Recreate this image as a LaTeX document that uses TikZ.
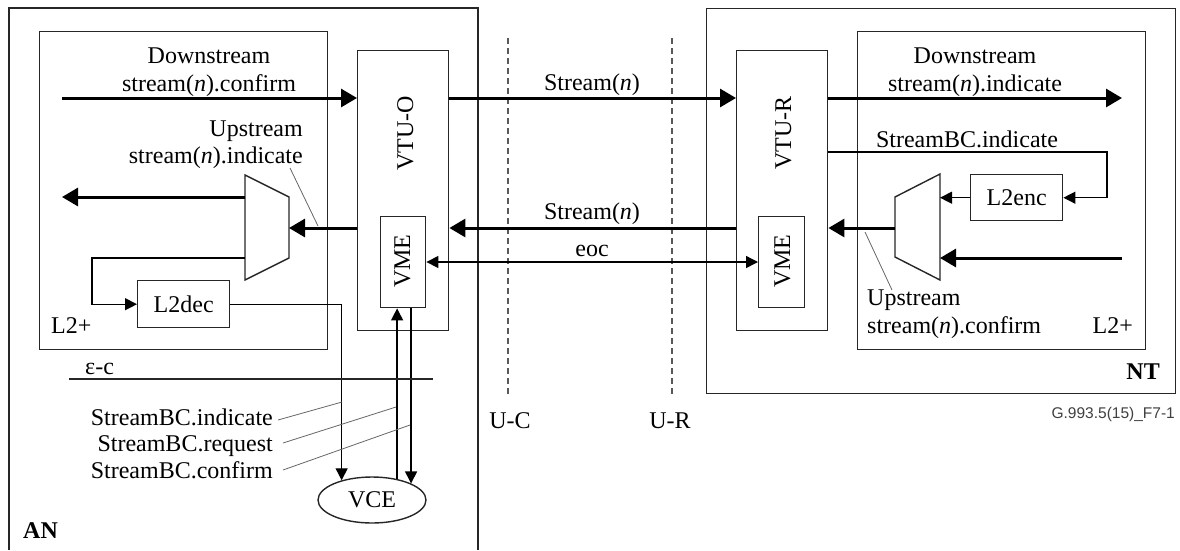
\documentclass[tikz,border=0pt]{standalone}
\usepackage{fontspec}
\setmainfont{Liberation Serif}
\newfontfamily\sansfam{Liberation Sans}
\usetikzlibrary{arrows.meta,shapes.geometric}
\newcommand\dfont{\fontsize{24}{28}\selectfont}
\begin{document}
\begin{tikzpicture}[x=1pt,y=-1pt,
  box/.style={draw=black!85, line width=1.4pt, inner sep=0pt, anchor=north west, font=\dfont},
  outline/.style={draw=black!85, line width=1.4pt},
  lbl/.style={font=\dfont, inner sep=0pt},
  fat/.style={line width=3pt, -{Triangle[length=16pt,width=18pt]}},
  sig/.style={line width=1.3pt, -{Triangle[length=12pt,width=12pt]}},
  sigboth/.style={line width=1.3pt, {Triangle[length=12pt,width=12pt]}-{Triangle[length=12pt,width=12pt]}},
  lead/.style={draw=black!60, line width=0.8pt},
  ref/.style={draw=black!65, line width=1.1pt, dash pattern=on 6pt off 4pt},
]
\useasboundingbox (0,0) rectangle (1180,550);

% AN container (open at bottom)
\draw[outline] (9,550) -- (9,8) -- (478,8) -- (478,550);

% boxes on AN side
\node[box, minimum width=288pt, minimum height=318pt] (l2l) at (39,31) {};
\node[box, minimum width=91pt, minimum height=280pt] (vtuo) at (357,50) {};
\node[box, minimum width=45pt, minimum height=91pt] (vmeo) at (380,216) {};
\node[box, minimum width=92pt, minimum height=47pt] (l2dec) at (137,280) {L2dec};
\node[draw=black!85, ellipse, line width=1.4pt, minimum width=108pt, minimum height=46pt, inner sep=0pt, font=\dfont] (vce) at (372,500) {VCE};

% NT side
\node[box, minimum width=469pt, minimum height=385pt] (nt) at (706,8) {};
\node[box, minimum width=91pt, minimum height=280pt] (vtur) at (736,50) {};
\node[box, minimum width=46pt, minimum height=91pt] (vmer) at (758,216) {};
\node[box, minimum width=288pt, minimum height=318pt] (l2r) at (857,31) {};
\node[box, minimum width=92pt, minimum height=46pt] (l2enc) at (970,174) {L2enc};

% multiplexers
\coordinate (mla) at (245,175); \coordinate (mlb) at (289,197);
\coordinate (mlc) at (289,258); \coordinate (mld) at (245,280);
\draw[outline] (mla) -- (mlb) -- (mlc) -- (mld) -- cycle;
\coordinate (mra) at (895,197); \coordinate (mrb) at (940,174);
\coordinate (mrc) at (940,280); \coordinate (mrd) at (895,257);
\draw[outline] (mra) -- (mrb) -- (mrc) -- (mrd) -- cycle;

% rotated labels
\node[lbl, rotate=90, anchor=base] (tvtuo) at (413,133) {VTU-O};
\node[lbl, rotate=90, anchor=base] (tvmeo) at (410,261) {VME};
\node[lbl, rotate=90, anchor=base] (tvtur) at (791,133) {VTU-R};
\node[lbl, rotate=90, anchor=base] (tvmer) at (790,261) {VME};

% reference points
\draw[ref] (508,38) -- (508,397);
\draw[ref] (672,38) -- (672,397);

% main data path
\coordinate (dsL) at (62,98);
\coordinate (dsR) at (1122,98);
\coordinate (usy) at (0,228);
\coordinate (mlin) at (289,228);
\coordinate (mlout) at (245,197);
\coordinate (usL) at (62,197);
\coordinate (mlfb) at (245,258);
\coordinate (mrout) at (895,228);
\coordinate (usR) at (1122,258);
\coordinate (eocy) at (0,262);
\coordinate (bcy) at (0,152);
\coordinate (bcR) at (1107,152);

\draw[fat] (dsL) -- (dsL -| vtuo.west);
\draw[fat] (vtuo.east |- dsL) -- (vtur.west |- dsL);
\draw[fat] (vtur.east |- dsR) -- (dsR);
\draw[fat] (vtur.west |- usy) -- (vtuo.east |- usy);
\draw[fat] (vtuo.west |- usy) -- (mlin);
\draw[fat] (mlout) -- (usL);
\draw[fat] (mrout) -- (vtur.east |- mrout);
\draw[fat] (usR) -- (usR -| mrb);

% control paths
\draw[sig] (mlfb) -- ++(-153,0) |- (l2dec.west);
\draw[sig] (l2dec.east) -| (vce.147.5);
\draw[sig] (vce.40.6) -- (vce.40.6 |- vmeo.south);
\draw[sig] (vce.23.2 |- vmeo.south) -- (vce.23.2);
\draw[sigboth] (vmeo.east |- eocy) -- (vmer.west |- eocy);
\draw[sig] (vtur.east |- bcy) -- (bcR) |- (l2enc.east);
\draw[sig] (l2enc.west) -- (l2enc.west -| mrb);

% epsilon-c reference line
\draw[line width=1.3pt, black!85] (69,379) -- (433,379);

% leader lines
\draw[lead] (290,168) -- (318,226);
\draw[lead] (865,232) -- (892,290);
\draw[lead] (278,420) -- (342,402);
\draw[lead] (283,443) -- (396,407);
\draw[lead] (283,470) -- (410,425);

% texts, AN side
\node[lbl, anchor=base] (t1) at (209,63) {Downstream};
\node[lbl, anchor=base] (t2) at (209,91) {stream(\textit{n}).confirm};
\node[lbl, anchor=base east] (t3) at (303,136) {Upstream};
\node[lbl, anchor=base east] (t4) at (303,163) {stream(\textit{n}).indicate};
\node[lbl, anchor=base west] (t5) at (51,333) {L2+};
\node[lbl, anchor=base west] (t6) at (85,374) {ε-c};
\node[lbl, anchor=base east] (t7) at (273,425) {StreamBC.indicate};
\node[lbl, anchor=base east] (t8) at (273,451) {StreamBC.request};
\node[lbl, anchor=base east] (t9) at (273,478) {StreamBC.confirm};
\node[lbl, anchor=base west] (t10) at (23,538) {\bfseries AN};

% middle texts
\node[lbl, anchor=base] (t11) at (592,90) {Stream(\textit{n})};
\node[lbl, anchor=base] (t12) at (592,219) {Stream(\textit{n})};
\node[lbl, anchor=base] (t13) at (592,256) {eoc};
\node[lbl, anchor=base] (t14) at (510,428) {U-C};
\node[lbl, anchor=base] (t15) at (670,428) {U-R};

% texts, NT side
\node[lbl, anchor=base] (t16) at (975,63) {Downstream};
\node[lbl, anchor=base] (t17) at (975,91) {stream(\textit{n}).indicate};
\node[lbl, anchor=base] (t18) at (967,147) {StreamBC.indicate};
\node[lbl, anchor=base west] (t19) at (867,305) {Upstream};
\node[lbl, anchor=base west] (t20) at (867,333) {stream(\textit{n}).confirm};
\node[lbl, anchor=base east] (t21) at (1133,333) {L2+};
\node[lbl, anchor=base east] (t22) at (1160,379) {\bfseries NT};
\node[inner sep=0pt, anchor=base east, text=black!75, font=\sansfam\fontsize{15.5}{18}\selectfont] (t23) at (1175,418) {G.993.5(15)\_F7-1};
\end{tikzpicture}
\end{document}
